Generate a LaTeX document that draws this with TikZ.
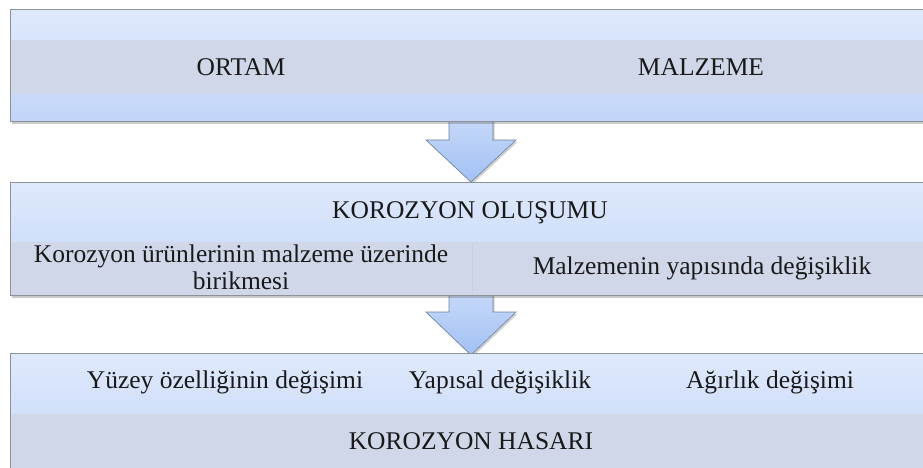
\documentclass[tikz,border=0pt]{standalone}
\usepackage{fontspec}
\setmainfont{Liberation Serif}
\usetikzlibrary{shadows,calc}
\definecolor{bandtop}{HTML}{DFE9FC}
\definecolor{bandbot}{HTML}{C2D5F8}
\definecolor{greyband}{HTML}{CFD7E8}
\definecolor{boxline}{HTML}{8E9196}
\definecolor{arrtop}{HTML}{CADBFA}
\definecolor{arrbot}{HTML}{A2C1F4}
\definecolor{arrline}{HTML}{6F7F99}
\tikzset{
  panel/.style={draw=boxline, line width=0.8pt, top color=bandtop, bottom color=bandbot,
    shading angle=0, inner sep=0pt, anchor=north west,
    drop shadow={opacity=0.35, shadow xshift=1.5pt, shadow yshift=-2.5pt, fill=black!60}},
  band/.style={fill=greyband, draw=none},
  blockarrow/.style={draw=arrline, line width=0.6pt, top color=arrtop, bottom color=arrbot,
    drop shadow={opacity=0.3, shadow xshift=1.5pt, shadow yshift=-2pt, fill=black!60}},
  lbl/.style={font=\fontsize{25.5}{27}\selectfont, text=black!90, inner sep=0pt, align=center}
}
\begin{document}
\begin{tikzpicture}[x=1pt,y=-1pt]
\useasboundingbox (0,0) rectangle (923,467);
% block arrows (behind the panels)
\draw[blockarrow] (449,110) -- (493,110) -- (493,140) -- (516,140) -- (471,182) -- (426,140) -- (449,140) -- cycle;
\draw[blockarrow] (449,285) -- (493,285) -- (493,312) -- (516,312) -- (471,355) -- (426,312) -- (449,312) -- cycle;
% panel 1
\node[panel, minimum width=920pt, minimum height=112pt] (p1) at (10,9) {};
\fill[band] (10.4,40) rectangle (930,94);
\draw[boxline, line width=0.8pt] (10,9) rectangle (935,121);
\node[lbl] (ortam) at (241,67) {ORTAM};
\node[lbl] (malzeme) at (701,67) {MALZEME};
% panel 2
\node[panel, minimum width=920pt, minimum height=113pt] (p2) at (10,182) {};
\fill[band] (10.4,242) rectangle (930,294.6);
\draw[greyband!96!black, line width=0.4pt] (472,243) -- (472,294);
\draw[boxline, line width=0.8pt] (10,182) rectangle (935,295);
\node[lbl] (olusum) at (470,213) {KOROZYON OLUŞUMU};
\node[lbl] (birikme) at (241,267) {Korozyon ürünlerinin malzeme üzerinde\\birikmesi};
\node[lbl] (yapi) at (702,268) {Malzemenin yapısında değişiklik};
% panel 3
\node[panel, minimum width=920pt, minimum height=125pt] (p3) at (10,353) {};
\fill[band] (10.4,414) rectangle (930,480);
\draw[boxline, line width=0.8pt] (10,480) -- (10,353) -- (935,353);
\node[lbl] (yuzey) at (225,382) {Yüzey özelliğinin değişimi};
\node[lbl] (yapisal) at (500,382) {Yapısal değişiklik};
\node[lbl] (agirlik) at (770,382) {Ağırlık değişimi};
\node[lbl] (hasar) at (471,441) {KOROZYON HASARI};
\end{tikzpicture}
\end{document}
